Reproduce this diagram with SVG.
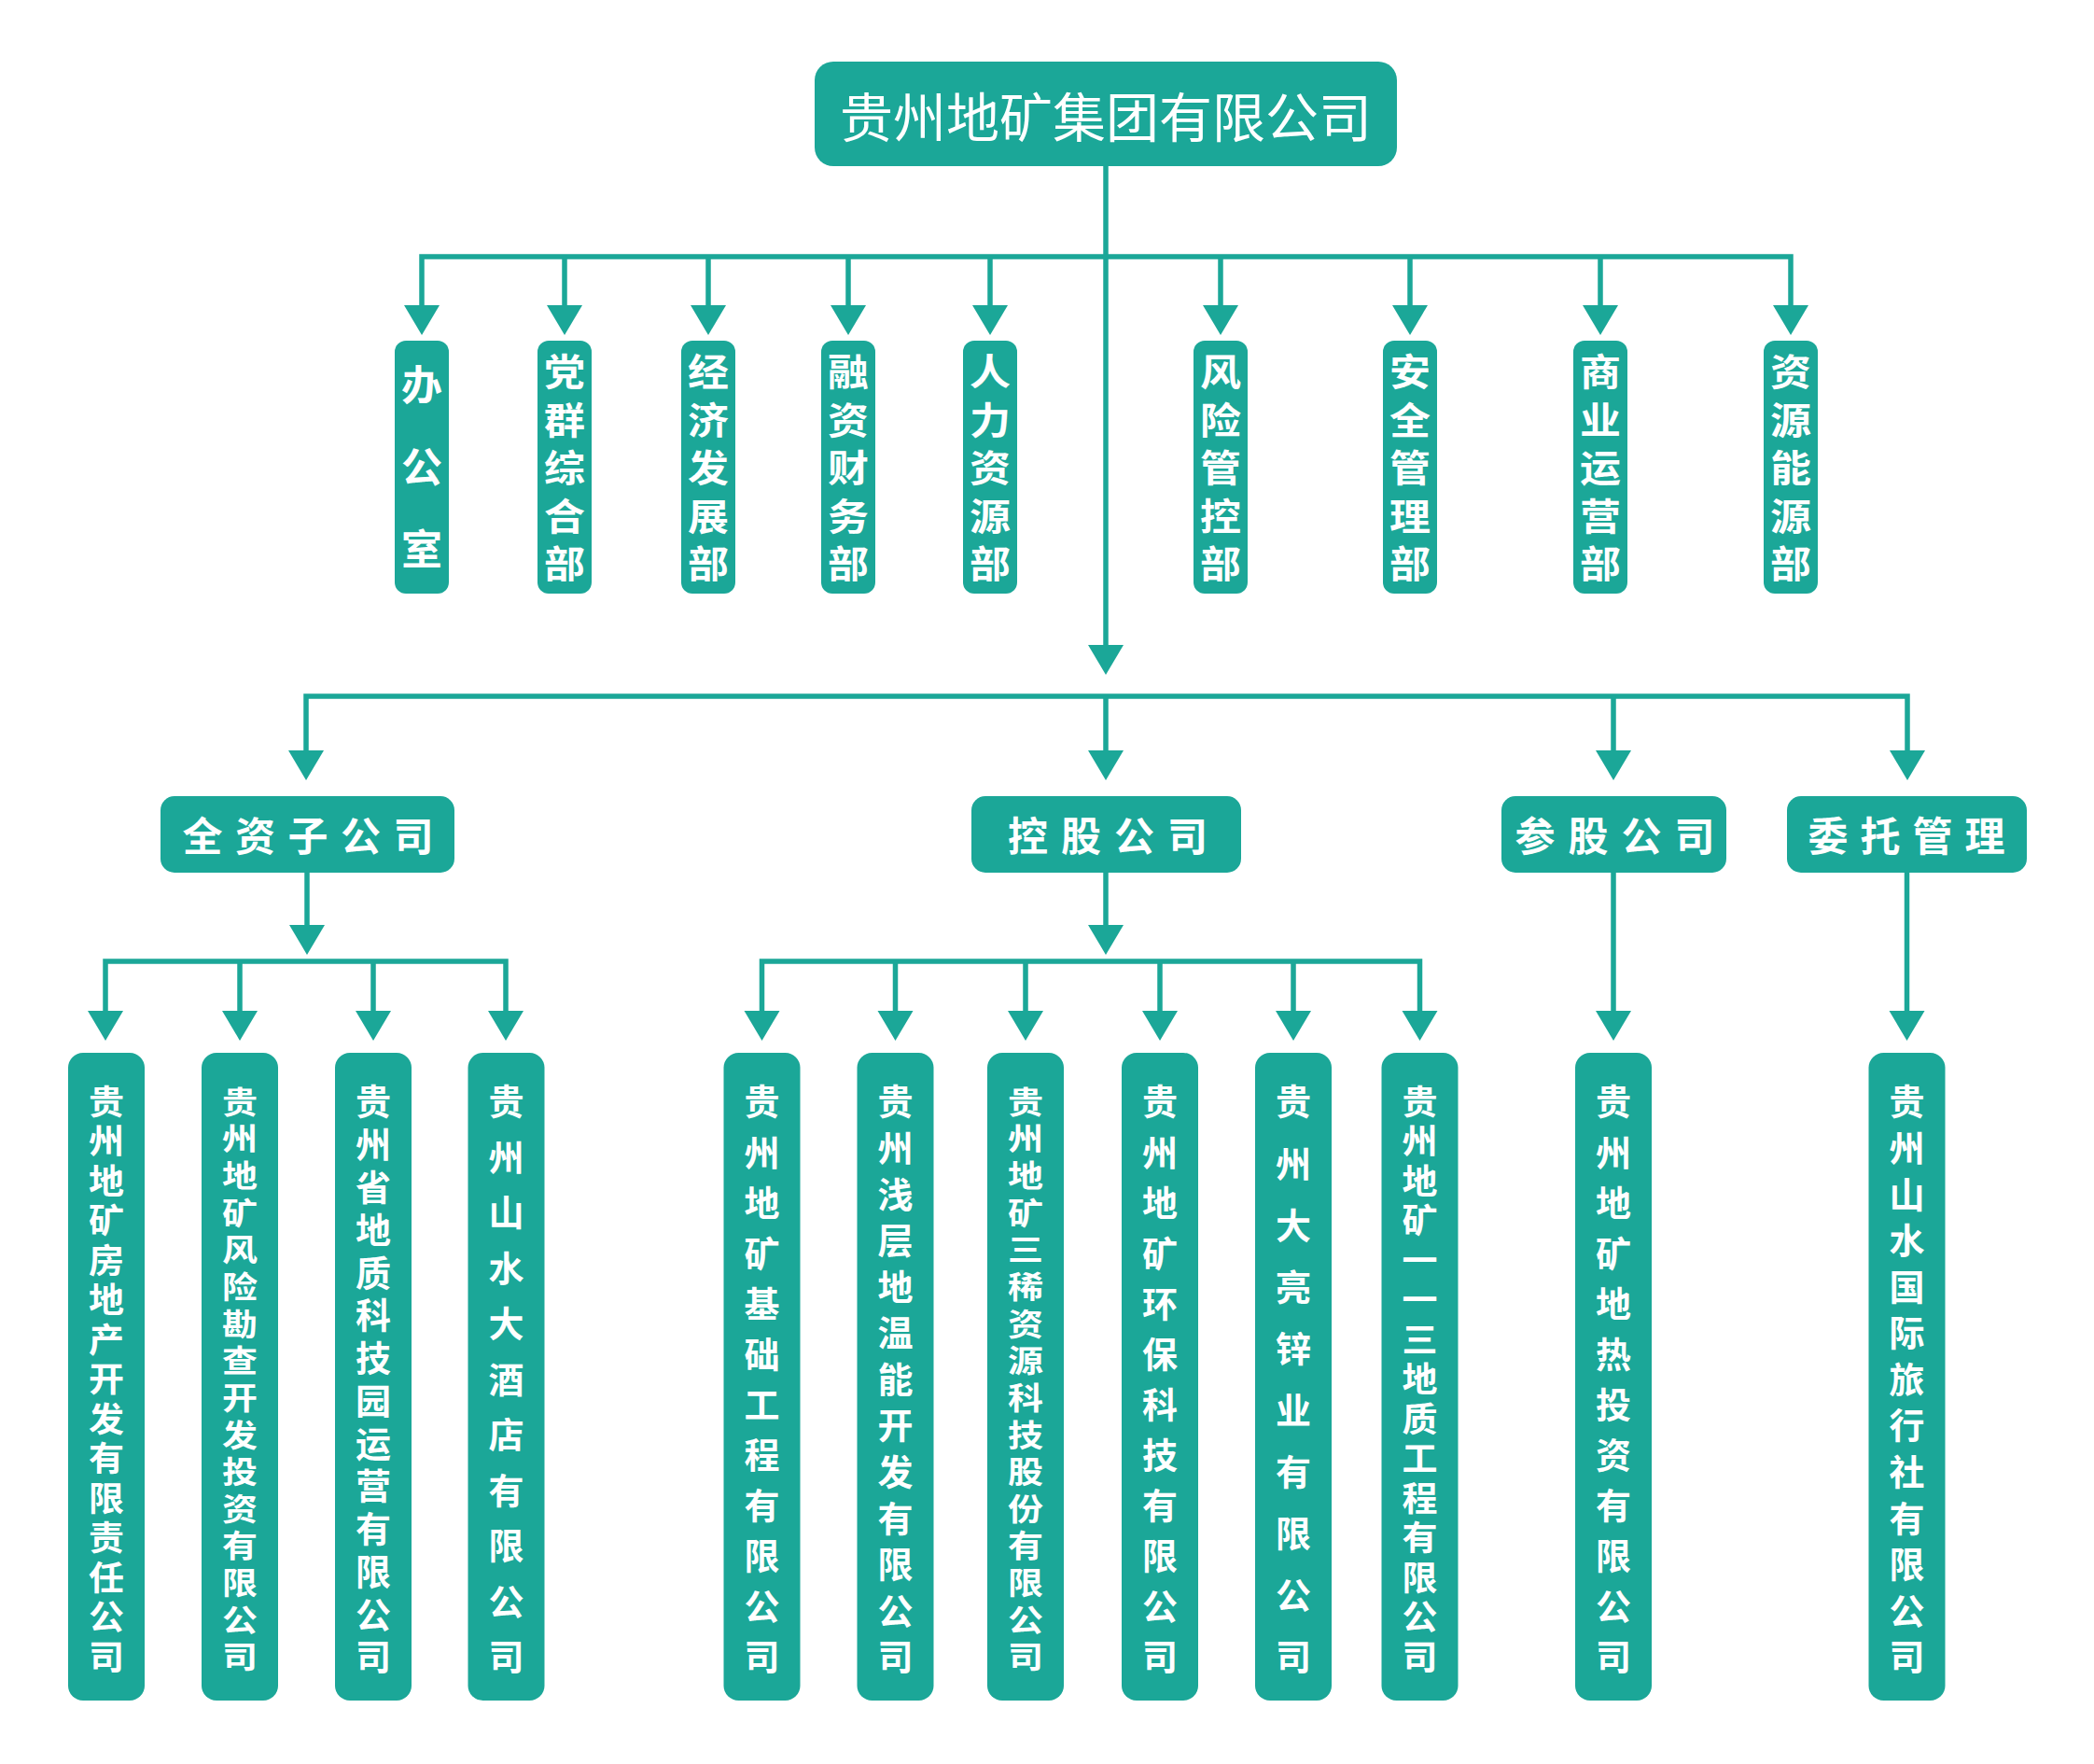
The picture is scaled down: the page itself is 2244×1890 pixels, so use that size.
<svg xmlns="http://www.w3.org/2000/svg" width="2244" height="1890" viewBox="0 0 2244 1890">
<style>
.box{fill:#1ba798}
.ln{fill:none;stroke:#1ba798;stroke-width:5.5;stroke-linejoin:miter}
.ah{fill:#1ba798}
text{font-family:"Noto Sans CJK SC","Noto Sans",sans-serif;fill:#ffffff;text-anchor:middle;dominant-baseline:central}
.v{writing-mode:vertical-rl;text-orientation:upright;text-anchor:start}
.title{font-size:57px;font-weight:400}
.dept{font-size:44px;font-weight:700}
.cat{font-size:43px;font-weight:700}
.leaf{font-size:38px;font-weight:700}
</style>
<defs>
<path id="ah" d="M-19,-32 L19,-32 L0,0 Z"/>
</defs>
<rect width="2244" height="1890" fill="#ffffff"/>

<g id="connectors">
<path class="ln" d="M1185,178 V693"/>
<path class="ln" d="M452,329 V275 H1919 V329"/>
<path class="ln" d="M605,275 V329 M759,275 V329 M909,275 V329 M1061,275 V329 M1308,275 V329 M1511,275 V329 M1715,275 V329"/>
<path class="ln" d="M328,806 V746 H2044 V806"/>
<path class="ln" d="M1185,746 V806 M1729,746 V806"/>
<path class="ln" d="M329,935 V993"/>
<path class="ln" d="M113,1086 V1030 H542 V1086"/>
<path class="ln" d="M257,1030 V1086 M400,1030 V1086"/>
<path class="ln" d="M1185,935 V993"/>
<path class="ln" d="M816.5,1086 V1030 H1521.5 V1086"/>
<path class="ln" d="M959.5,1030 V1086 M1099,1030 V1086 M1243,1030 V1086 M1386,1030 V1086"/>
<path class="ln" d="M1729,935 V1086 M2043.5,935 V1086"/>
<g class="ah">
<use href="#ah" x="452" y="359"/><use href="#ah" x="605" y="359"/><use href="#ah" x="759" y="359"/><use href="#ah" x="909" y="359"/><use href="#ah" x="1061" y="359"/><use href="#ah" x="1308" y="359"/><use href="#ah" x="1511" y="359"/><use href="#ah" x="1715" y="359"/><use href="#ah" x="1919" y="359"/>
<use href="#ah" x="1185" y="723"/>
<use href="#ah" x="328" y="836"/><use href="#ah" x="1185" y="836"/><use href="#ah" x="1729" y="836"/><use href="#ah" x="2044" y="836"/>
<use href="#ah" x="329" y="1023"/><use href="#ah" x="1185" y="1023"/>
<use href="#ah" x="113" y="1115"/><use href="#ah" x="257" y="1115"/><use href="#ah" x="400" y="1115"/><use href="#ah" x="542" y="1115"/>
<use href="#ah" x="816.5" y="1115"/><use href="#ah" x="959.5" y="1115"/><use href="#ah" x="1099" y="1115"/><use href="#ah" x="1243" y="1115"/><use href="#ah" x="1386" y="1115"/><use href="#ah" x="1521.5" y="1115"/>
<use href="#ah" x="1729" y="1115"/><use href="#ah" x="2043.5" y="1115"/>
</g>
</g>

<g id="root">
<rect class="box" x="873" y="66" width="624" height="112" rx="20"/>
<text class="title" x="1185" y="122">贵州地矿集团有限公司</text>
</g>

<g id="dept-office">
<rect class="box" x="423" y="365" width="58" height="271" rx="12"/>
<text class="dept v" x="452" y="390" letter-spacing="44">办公室</text>
</g>
<g id="dept-party">
<rect class="box" x="576" y="365" width="58" height="271" rx="12"/>
<text class="dept v" transform="matrix(1,0,0,0.9,605,0)" x="0" y="420.22" letter-spacing="13.22">党群综合部</text>
</g>
<g id="dept-econ">
<rect class="box" x="730" y="365" width="58" height="271" rx="12"/>
<text class="dept v" transform="matrix(1,0,0,0.9,759,0)" x="0" y="420.22" letter-spacing="13.22">经济发展部</text>
</g>
<g id="dept-fin">
<rect class="box" x="880" y="365" width="58" height="271" rx="12"/>
<text class="dept v" transform="matrix(1,0,0,0.9,909,0)" x="0" y="420.22" letter-spacing="13.22">融资财务部</text>
</g>
<g id="dept-hr">
<rect class="box" x="1032" y="365" width="58" height="271" rx="12"/>
<text class="dept v" transform="matrix(1,0,0,0.9,1061,0)" x="0" y="420.22" letter-spacing="13.22">人力资源部</text>
</g>
<g id="dept-risk">
<rect class="box" x="1279" y="365" width="58" height="271" rx="12"/>
<text class="dept v" transform="matrix(1,0,0,0.9,1308,0)" x="0" y="420.22" letter-spacing="13.22">风险管控部</text>
</g>
<g id="dept-safety">
<rect class="box" x="1482" y="365" width="58" height="271" rx="12"/>
<text class="dept v" transform="matrix(1,0,0,0.9,1511,0)" x="0" y="420.22" letter-spacing="13.22">安全管理部</text>
</g>
<g id="dept-biz">
<rect class="box" x="1686" y="365" width="58" height="271" rx="12"/>
<text class="dept v" transform="matrix(1,0,0,0.9,1715,0)" x="0" y="420.22" letter-spacing="13.22">商业运营部</text>
</g>
<g id="dept-res">
<rect class="box" x="1890" y="365" width="58" height="271" rx="12"/>
<text class="dept v" transform="matrix(1,0,0,0.9,1919,0)" x="0" y="420.22" letter-spacing="13.22">资源能源部</text>
</g>

<g id="cat-whole">
<rect class="box" x="172" y="853" width="315" height="82" rx="15"/>
<text class="cat"><tspan x="217" y="893">全</tspan><tspan x="273.5" y="893">资</tspan><tspan x="330" y="893">子</tspan><tspan x="386.5" y="893">公</tspan><tspan x="443" y="893">司</tspan></text>
</g>
<g id="cat-hold">
<rect class="box" x="1041" y="853" width="289" height="82" rx="15"/>
<text class="cat"><tspan x="1101.5" y="893">控</tspan><tspan x="1158.5" y="893">股</tspan><tspan x="1215.5" y="893">公</tspan><tspan x="1272.5" y="893">司</tspan></text>
</g>
<g id="cat-part">
<rect class="box" x="1609" y="853" width="241" height="82" rx="15"/>
<text class="cat"><tspan x="1645" y="893">参</tspan><tspan x="1702" y="893">股</tspan><tspan x="1759" y="893">公</tspan><tspan x="1816" y="893">司</tspan></text>
</g>
<g id="cat-entrust">
<rect class="box" x="1915" y="853" width="257" height="82" rx="15"/>
<text class="cat"><tspan x="1959" y="893">委</tspan><tspan x="2015" y="893">托</tspan><tspan x="2071" y="893">管</tspan><tspan x="2127" y="893">理</tspan></text>
</g>

<g id="leaf-1">
<rect class="box" x="73" y="1128" width="82" height="694" rx="16"/>
<text class="leaf v" transform="matrix(1,0,0,0.96,114,0)" x="0" y="1210.17" letter-spacing="6.27">贵州地矿房地产开发有限责任公司</text>
</g>
<g id="leaf-2">
<rect class="box" x="216" y="1128" width="82" height="694" rx="16"/>
<text class="leaf v" transform="matrix(1,0,0,0.87,257,0)" x="0" y="1337.32" letter-spacing="7.594">贵州地矿风险勘查开发投资有限公司</text>
</g>
<g id="leaf-3">
<rect class="box" x="359" y="1128" width="82" height="694" rx="16"/>
<text class="leaf v" x="400" y="1161" letter-spacing="7.77">贵州省地质科技园运营有限公司</text>
</g>
<g id="leaf-4">
<rect class="box" x="501.5" y="1128" width="82" height="694" rx="16"/>
<text class="leaf v" x="542.5" y="1161" letter-spacing="21.5">贵州山水大酒店有限公司</text>
</g>
<g id="leaf-5">
<rect class="box" x="775.5" y="1128" width="82" height="694" rx="16"/>
<text class="leaf v" x="816.5" y="1161" letter-spacing="16.09">贵州地矿基础工程有限公司</text>
</g>
<g id="leaf-6">
<rect class="box" x="918.5" y="1128" width="82" height="694" rx="16"/>
<text class="leaf v" x="959.5" y="1161" letter-spacing="11.58">贵州浅层地温能开发有限公司</text>
</g>
<g id="leaf-7">
<rect class="box" x="1058" y="1128" width="82" height="694" rx="16"/>
<text class="leaf v" transform="matrix(1,0,0,0.87,1099,0)" x="0" y="1337.32" letter-spacing="7.594">贵州地矿三稀资源科技股份有限公司</text>
</g>
<g id="leaf-8">
<rect class="box" x="1202" y="1128" width="82" height="694" rx="16"/>
<text class="leaf v" x="1243" y="1161" letter-spacing="16.09">贵州地矿环保科技有限公司</text>
</g>
<g id="leaf-9">
<rect class="box" x="1345" y="1128" width="82" height="694" rx="16"/>
<text class="leaf v" x="1386" y="1161" letter-spacing="28.11">贵州大亮锌业有限公司</text>
</g>
<g id="leaf-10">
<rect class="box" x="1480.5" y="1128" width="82" height="694" rx="16"/>
<text class="leaf v" transform="matrix(1,0,0,0.96,1521.5,0)" x="0" y="1210.17" letter-spacing="6.27">贵州地矿一一三地质工程有限公司</text>
</g>
<g id="leaf-11">
<rect class="box" x="1688" y="1128" width="82" height="694" rx="16"/>
<text class="leaf v" x="1729" y="1161" letter-spacing="16.09">贵州地矿地热投资有限公司</text>
</g>
<g id="leaf-12">
<rect class="box" x="2002.5" y="1128" width="82" height="694" rx="16"/>
<text class="leaf v" x="2043.5" y="1161" letter-spacing="11.58">贵州山水国际旅行社有限公司</text>
</g>
</svg>
